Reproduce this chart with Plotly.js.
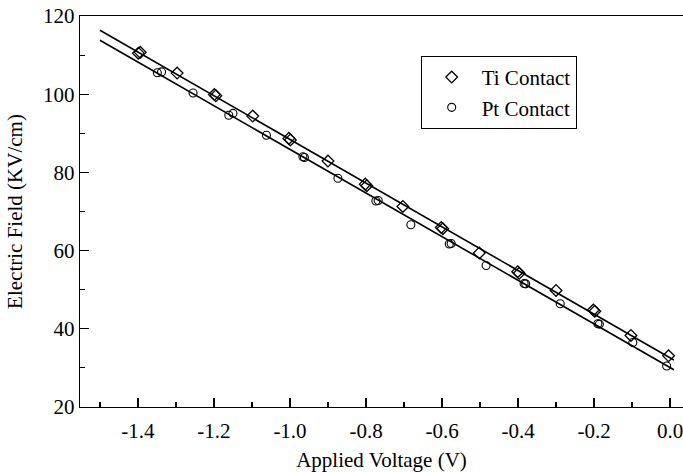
<!DOCTYPE html>
<html>
<head>
<meta charset="utf-8">
<script src="https://cdn.plot.ly/plotly-3.0.1.min.js"></script>
<style>
html,body{margin:0;padding:0;background:#fff;}
#chart{width:683px;height:472px;}
</style>
</head>
<body>
<div id="chart"></div>
<script>
// Ti contact data (diamonds); some points are doubled in the original
var tiVoltage = [-1.399, -1.394, -1.297, -1.199, -1.195, -1.098, -1.003, -0.999, -0.900, -0.802, -0.798, -0.703, -0.602, -0.598, -0.502, -0.401, -0.397, -0.300, -0.202, -0.198, -0.103, -0.004];
var tiField   = [110.5, 110.7, 105.4, 99.9, 99.6, 94.4, 88.7, 88.3, 82.9, 77.0, 76.6, 71.3, 65.9, 65.6, 59.4, 54.6, 54.2, 49.8, 44.8, 44.5, 38.3, 33.1];

// Pt contact data (circles)
var ptVoltage = [-1.349, -1.338, -1.255, -1.161, -1.150, -1.062, -0.966, -0.962, -0.874, -0.774, -0.768, -0.682, -0.581, -0.576, -0.484, -0.384, -0.380, -0.289, -0.190, -0.186, -0.098, -0.009];
var ptField   = [105.5, 105.7, 100.3, 94.6, 95.1, 89.5, 84.0, 83.8, 78.5, 72.7, 72.8, 66.6, 61.7, 61.8, 56.2, 51.6, 51.5, 46.4, 41.3, 41.2, 36.5, 30.5];

// voltage span of the fitted lines
var fitSpan = [-1.5, 0.01];

// axis ticks
var xTickVals = [-1.4, -1.2, -1.0, -0.8, -0.6, -0.4, -0.2, 0.0];
var xTickText = ["-1.4", "-1.2", "-1.0", "-0.8", "-0.6", "-0.4", "-0.2", "0.0"];
var yTickVals = [20, 40, 60, 80, 100, 120];

function linfit(xs, ys) {
  var n = xs.length, sx = 0, sy = 0, sxx = 0, sxy = 0;
  for (var i = 0; i < n; i++) { sx += xs[i]; sy += ys[i]; sxx += xs[i]*xs[i]; sxy += xs[i]*ys[i]; }
  var m = (n*sxy - sx*sy) / (n*sxx - sx*sx);
  var b = (sy - m*sx) / n;
  return function (x) { return m*x + b; };
}
var tiFit = linfit(tiVoltage, tiField);
var ptFit = linfit(ptVoltage, ptField);

var FONT = "Liberation Serif";

var traces = [
  {x: fitSpan, y: fitSpan.map(tiFit), mode: 'lines', line: {color: '#000', width: 1.6}, showlegend: false, hoverinfo: 'skip'},
  {x: fitSpan, y: fitSpan.map(ptFit), mode: 'lines', line: {color: '#000', width: 1.6}, showlegend: false, hoverinfo: 'skip'},
  {x: tiVoltage, y: tiField, mode: 'markers', name: 'Ti Contact',
   marker: {symbol: 'diamond-open', size: 9, color: '#000', line: {width: 1.3, color: '#000'}}},
  {x: ptVoltage, y: ptField, mode: 'markers', name: 'Pt Contact',
   marker: {symbol: 'circle-open', size: 8, color: '#000', line: {width: 1.1, color: '#000'}}}
];

var layout = {
  width: 683, height: 472,
  margin: {l: 80, r: 0, t: 16, b: 65},
  paper_bgcolor: '#fff', plot_bgcolor: '#fff',
  font: {family: FONT, size: 20, color: '#000'},
  showlegend: true,
  legend: {x: 0.565, y: 0.898, xanchor: 'left', yanchor: 'top',
           bordercolor: '#000', borderwidth: 1, bgcolor: '#fff',
           itemwidth: 50,
           font: {family: FONT, size: 21, color: '#000'}},
  xaxis: {
    range: [-1.5525, 0.034], showgrid: false, zeroline: false,
    showline: true, linecolor: '#000', linewidth: 1.2, mirror: true,
    ticks: 'inside', ticklen: 9, tickwidth: 1.2, tickcolor: '#000',
    tickvals: xTickVals, ticktext: xTickText, ticklabeloverflow: 'allow',
    ticklabelstandoff: 5,
    tickfont: {family: FONT, size: 21, color: '#000'},
    minor: {ticks: 'inside', dtick: 0.1, tick0: 0, ticklen: 5, tickwidth: 1.2, tickcolor: '#000', showgrid: false},
    title: {text: 'Applied Voltage (V)', font: {family: FONT, size: 21, color: '#000'}, standoff: 9}
  },
  yaxis: {
    range: [20, 120], showgrid: false, zeroline: false,
    showline: true, linecolor: '#000', linewidth: 1.2, mirror: false,
    ticks: 'inside', ticklen: 9, tickwidth: 1.2, tickcolor: '#000',
    tickvals: yTickVals,
    tickfont: {family: FONT, size: 21, color: '#000'},
    minor: {ticks: 'inside', dtick: 10, tick0: 0, ticklen: 5, tickwidth: 1.2, tickcolor: '#000', showgrid: false},
    title: {text: 'Electric Field (KV/cm)', font: {family: FONT, size: 21, color: '#000'}, standoff: 14}
  }
};

Plotly.newPlot('chart', traces, layout, {staticPlot: true, displayModeBar: false});
</script>
</body>
</html>
